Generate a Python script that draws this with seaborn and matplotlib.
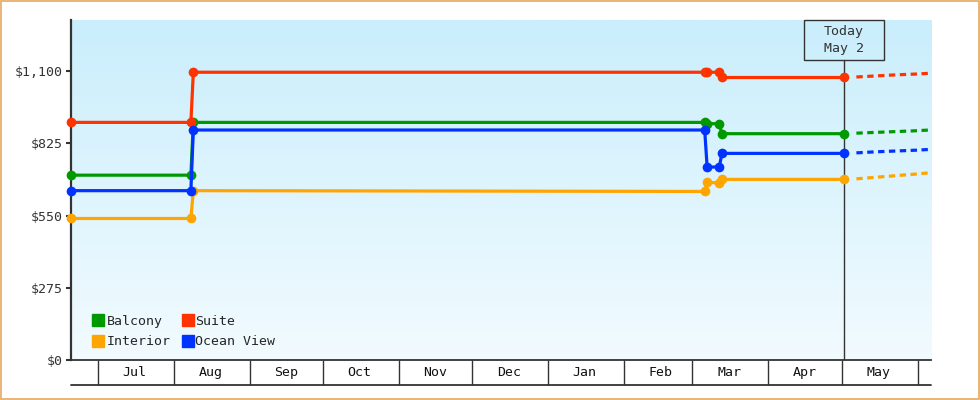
import pandas as pd
import numpy as np
import matplotlib.pyplot as plt
import matplotlib.dates as mdates
from matplotlib.lines import Line2D
from matplotlib.patches import Rectangle
from matplotlib.transforms import blended_transform_factory
import seaborn as sns

# --- data ---
cabins = ['Balcony', 'Interior', 'Suite', 'Ocean View']
palette = {'Balcony': '#009900', 'Interior': '#ffa500', 'Suite': '#ff3300', 'Ocean View': '#0033ff'}

hist_dates = ['2022-06-20', '2022-08-08', '2022-08-09', '2023-03-06',
              '2023-03-07', '2023-03-12', '2023-03-13', '2023-05-02']
balcony = [704, 704, 905, 905, 900, 900, 862, 862]
interior = [539, 539, 645, 642, 677, 674, 688, 688]
suite = [905, 905, 1096, 1096, 1096, 1096, 1076, 1076]
ocean_view = [645, 645, 876, 876, 735, 735, 787, 787]

fc_dates = ['2023-05-07', '2023-05-15', '2023-05-23', '2023-05-31', '2023-06-06']
balcony_fc = [864, 867, 870, 873, 876]
interior_fc = [690, 696, 702, 708, 713]
suite_fc = [1078, 1082, 1086, 1089, 1092]
ocean_view_fc = [789, 793, 796, 799, 802]

months = ['Jul', 'Aug', 'Sep', 'Oct', 'Nov', 'Dec', 'Jan', 'Feb', 'Mar', 'Apr', 'May']
month_starts = pd.date_range('2022-07-01', '2023-06-01', freq='MS')
today = pd.Timestamp('2023-05-02')
y_ticks = [0, 275, 550, 825, 1100]
y_labels = ['$0', '$275', '$550', '$825', '$1,100']

def long_frame(dates, series):
    rows = []
    for cabin, vals in zip(cabins, series):
        rows.append(pd.DataFrame({'date': pd.to_datetime(dates), 'price': vals, 'cabin': cabin}))
    return pd.concat(rows, ignore_index=True)

hist = long_frame(hist_dates, [balcony, interior, suite, ocean_view])
fc = long_frame(fc_dates, [balcony_fc, interior_fc, suite_fc, ocean_view_fc])

sns.set_theme(style='white')
plt.rcParams['font.family'] = ['DejaVu Sans Mono']
ink = '#333333'

fig = plt.figure(figsize=(9.8, 4), dpi=100)
ax = fig.add_axes([71 / 980, 40 / 400, 860 / 980, 340 / 400])

# background gradient
top = np.array([202, 238, 252]) / 255
bot = np.array([242, 251, 255]) / 255
t = np.linspace(0, 1, 256)[:, None]
grad = (top * (1 - t) + bot * t)[:, None, :]
ax.imshow(grad, extent=[0, 1, 0, 1], transform=ax.transAxes, aspect='auto', zorder=0)

sns.lineplot(data=hist, x='date', y='price', hue='cabin', hue_order=cabins, palette=palette,
             estimator=None, sort=False, marker='o', markersize=7, markeredgewidth=0,
             linewidth=2.3, legend=False, ax=ax, clip_on=False, zorder=3)
sns.lineplot(data=fc, x='date', y='price', hue='cabin', hue_order=cabins, palette=palette,
             estimator=None, sort=False, linewidth=2.3, linestyle=(0, (2, 1.4)),
             legend=False, ax=ax, zorder=3)

ax.set_xlim(pd.Timestamp('2022-06-20'), pd.Timestamp('2023-06-06 12:00'))
ax.set_ylim(0, 1295)

# today marker
box_y0 = (360 - 60) / 340
ax.axvline(today, ymax=box_y0, color=ink, lw=1, zorder=2)
tr = blended_transform_factory(ax.transData, ax.transAxes)
tnum = mdates.date2num(today)
ax.add_patch(Rectangle((tnum - 16.4, box_y0), 32.7, 40 / 340, transform=tr,
                       fill=False, ec=ink, lw=1, clip_on=False, zorder=4))
ax.text(today, (360 - 40) / 340, 'Today\nMay 2', transform=tr, ha='center', va='center',
        fontsize=9.5, color=ink, linespacing=1.35, zorder=5)

# x axis: month boxes
ax.set_xticks(month_starts)
ax.set_xticklabels([''] * len(month_starts))
mids = month_starts[:-1] + pd.Timedelta(days=15)
ax.set_xticks(mids, minor=True)
ax.set_xticklabels(months, minor=True)
ax.tick_params(axis='x', which='major', bottom=True, length=18, width=1, color=ink, direction='out')
ax.tick_params(axis='x', which='minor', bottom=True, length=0, pad=4, labelsize=9.5,
               labelcolor='#111111')
ax.add_line(Line2D([0, 1], [-25 / 340, -25 / 340], transform=ax.transAxes,
                   color=ink, lw=1.3, clip_on=False))

ax.set_yticks(y_ticks)
ax.set_yticklabels(y_labels)
ax.tick_params(axis='y', left=True, length=3.6, width=1.5, color=ink, pad=2, labelsize=9.5,
               labelcolor=ink, direction='out')

ax.set_xlabel('')
ax.set_ylabel('')
for side in ['top', 'right']:
    ax.spines[side].set_visible(False)
for side in ['left', 'bottom']:
    ax.spines[side].set_color(ink)
ax.spines['left'].set_linewidth(1.6)
ax.spines['bottom'].set_linewidth(1.3)

handles = [Line2D([], [], marker='s', linestyle='none', color=palette[c], markersize=8) for c in cabins]
ax.legend(handles, cabins, ncol=2, loc='lower left', bbox_to_anchor=(0.012, 0.0), frameon=False,
          fontsize=9.5, handlelength=0.8, handletextpad=0.2, columnspacing=0.9, labelspacing=0.55)

fig.add_artist(Rectangle((0.0008, 0.0015), 0.9984, 0.997, transform=fig.transFigure,
                         fill=False, ec='#e8a860', lw=1.2))

fig.savefig('out.png', dpi=100)
